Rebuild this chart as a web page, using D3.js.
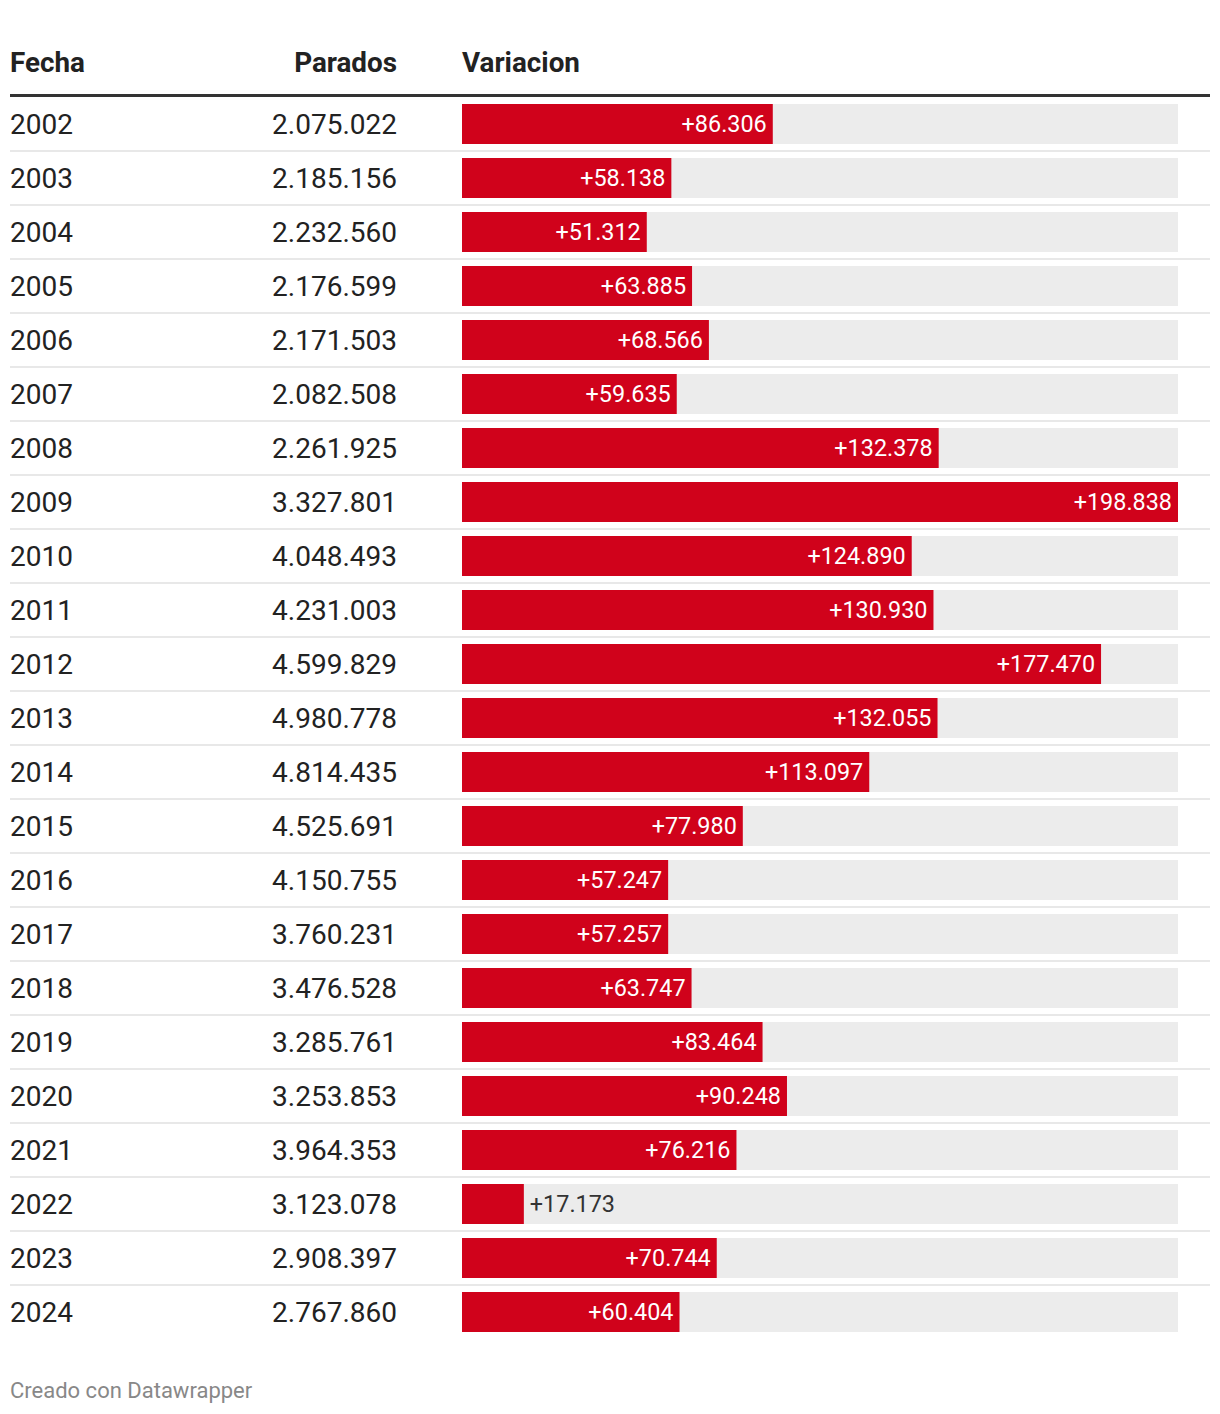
<!DOCTYPE html>
<html><head><meta charset="utf-8">
<script src="https://cdn.jsdelivr.net/npm/d3@7"></script>
<style>body{margin:0;background:#fff;font-family:Roboto,sans-serif;}</style>
</head><body><svg id="c" width="1220" height="1414"></svg>
<script>
const years = ["2002","2003","2004","2005","2006","2007","2008","2009","2010","2011","2012","2013","2014","2015","2016","2017","2018","2019","2020","2021","2022","2023","2024"];
const parados = [2075022,2185156,2232560,2176599,2171503,2082508,2261925,3327801,4048493,4231003,4599829,4980778,4814435,4525691,4150755,3760231,3476528,3285761,3253853,3964353,3123078,2908397,2767860];
const variacion = [86306,58138,51312,63885,68566,59635,132378,198838,124890,130930,177470,132055,113097,77980,57247,57257,63747,83464,90248,76216,17173,70744,60404];
const headers = ["Fecha","Parados","Variacion"];

const svg = d3.select("#c");
const fmt = d3.formatLocale({decimal:",",thousands:".",grouping:[3],currency:["","€"]}).format(",d");
const x = d3.scaleLinear().domain([0, d3.max(variacion)]).range([462, 1178]);
const y = d3.scaleBand().domain(years).range([97, 97+54*years.length]).paddingInner(0).paddingOuter(0);
const red = "#d0021b";

// header
svg.append("text").attr("x",10).attr("y",72).text(headers[0]).attr("font-size",27.8).attr("font-weight",700).attr("fill","#222");
svg.append("text").attr("x",397).attr("y",72).attr("text-anchor","end").text(headers[1]).attr("font-size",27.8).attr("font-weight",700).attr("fill","#222");
svg.append("text").attr("x",462).attr("y",72).text(headers[2]).attr("font-size",27.8).attr("font-weight",700).attr("fill","#222");
svg.append("rect").attr("x",10).attr("y",94).attr("width",1200).attr("height",3).attr("fill","#333");

const rows = svg.selectAll("g.row").data(years).join("g").attr("class","row")
  .attr("transform", d => `translate(0,${y(d)})`);

rows.filter((d,i)=> i < years.length-1).append("rect").attr("x",10).attr("y",53).attr("width",1200).attr("height",2).attr("fill","#e8e8e8");

rows.append("text").attr("x",10).attr("y",27).attr("dy","0.35em").attr("font-size",28).attr("fill","#222").text(d=>d);
rows.append("text").attr("x",397).attr("y",27).attr("dy","0.35em").attr("text-anchor","end").attr("font-size",28).attr("fill","#222").text((d,i)=>fmt(parados[i]));

rows.append("rect").attr("x",x(0)).attr("y",7).attr("width",x.range()[1]-x(0)).attr("height",40).attr("fill","#ececec");
rows.append("rect").attr("x",x(0)).attr("y",7).attr("width",(d,i)=>x(variacion[i])-x(0)).attr("height",40).attr("fill",red);

rows.append("text").attr("y",27).attr("dy","0.35em").attr("font-size",23.4)
  .each(function(d,i){
    const v = variacion[i];
    const w = x(v)-x(0);
    const t = d3.select(this).text("+"+fmt(v));
    if (w > 100) t.attr("x", x(v)-6).attr("text-anchor","end").attr("fill","#fff");
    else t.attr("x", x(v)+6).attr("text-anchor","start").attr("fill","#333");
  });

svg.append("text").attr("x",10).attr("y",1398).attr("font-size",22).attr("fill","#888").text("Creado con Datawrapper");
</script></body></html>
